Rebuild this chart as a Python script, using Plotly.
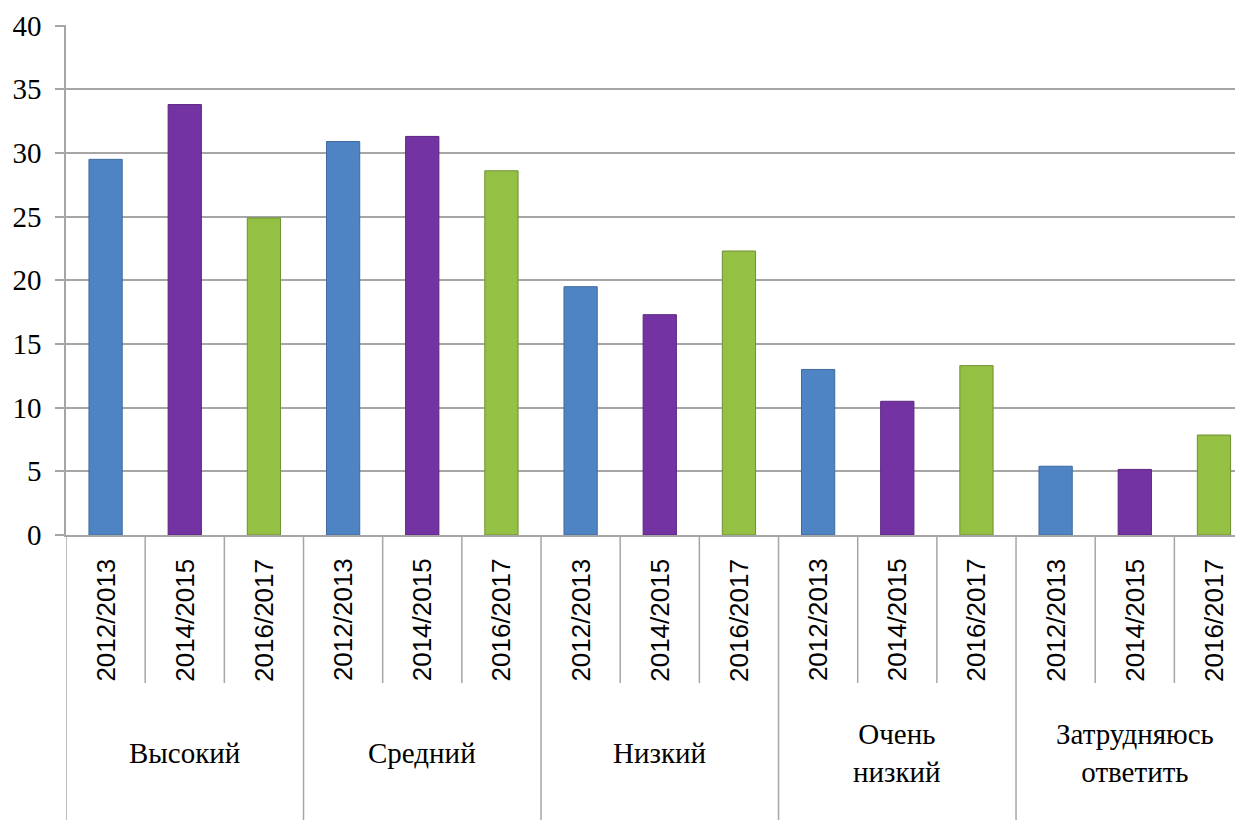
import numpy as np
import plotly.graph_objects as go

groups = ["Высокий", "Средний", "Низкий", "Очень<br>низкий", "Затрудняюсь<br>ответить"]
years = ["2012/2013", "2014/2015", "2016/2017"]
v_2012 = [29.5, 30.9, 19.5, 13.0, 5.4]
v_2014 = [33.8, 31.3, 17.3, 10.5, 5.15]
v_2016 = [24.9, 28.6, 22.3, 13.3, 7.85]
series = [v_2012, v_2014, v_2016]
colors = ["#4F84C4", "#7433A3", "#94C043"]
edge = ["#3E6A9E", "#5A2580", "#6F8F33"]

OFF = 8  # browser default body margin
W, H = 1243 - OFF, 820 - OFF
L, R, T, B = 66 - OFF, 0, 25 - OFF, 285
plot_h = H - T - B
cat_px = 79.17
plot_w = W - L - R
x_max = -0.5 + plot_w / cat_px

n_g = len(groups)
n_y = len(years)

fig = go.Figure()
for j, (yr, vals) in enumerate(zip(years, series)):
    xs = np.arange(n_g) * n_y + j
    fig.add_trace(go.Bar(
        x=xs, y=vals, name=yr, width=0.42,
        marker=dict(color=colors[j], line=dict(color=edge[j], width=1)),
        showlegend=False,
    ))

def py(px_ref):
    # reference pixel y (from top of image) -> paper coordinate
    px = px_ref - OFF
    return (H - B - px) / plot_h

grid_col = "#A6A6A6"
shapes = []
shapes.append(dict(type="line", xref="x", yref="paper", x0=-0.5, x1=-0.5,
                   y0=0, y1=py(822), line=dict(color=grid_col, width=1.5)))
for k in range(1, n_g * n_y):
    bottom = 822 if k % n_y == 0 else 683
    shapes.append(dict(type="line", xref="x", yref="paper", x0=k - 0.5, x1=k - 0.5,
                       y0=0, y1=py(bottom), line=dict(color=grid_col, width=1.5)))

annotations = []
for g in range(n_g):
    for j in range(n_y):
        idx = g * n_y + j
        annotations.append(dict(
            x=idx, y=py(620), xref="x", yref="paper", text=years[j],
            textangle=-90, showarrow=False, xanchor="center", yanchor="middle",
            font=dict(family="Liberation Sans, Arial", size=26, color="#000000")))
    annotations.append(dict(
        x=g * n_y + 1, y=py(753), xref="x", yref="paper", text=groups[g],
        showarrow=False, xanchor="center", yanchor="middle",
        font=dict(family="Liberation Serif, Times New Roman", size=29, color="#000000")))

fig.update_layout(
    width=W, height=H,
    margin=dict(l=L, r=R, t=T, b=B),
    paper_bgcolor="white", plot_bgcolor="white",
    barmode="overlay",
    shapes=shapes,
    annotations=annotations,
    xaxis=dict(range=[-0.5, x_max], showticklabels=False, showgrid=False,
               zeroline=False, showline=True, linecolor=grid_col, linewidth=1.5,
               ticks=""),
    yaxis=dict(range=[0, 40.05], tickvals=list(range(0, 41, 5)),
               showgrid=True, gridcolor=grid_col, gridwidth=1.5,
               zeroline=False, showline=True, linecolor=grid_col, linewidth=1.5,
               ticks="outside", ticklen=9, tickcolor=grid_col, tickwidth=1.5,
               ticklabelstandoff=8,
               tickfont=dict(family="Liberation Serif, Times New Roman", size=29, color="#000000")),
)

fig.write_html("out.html")
